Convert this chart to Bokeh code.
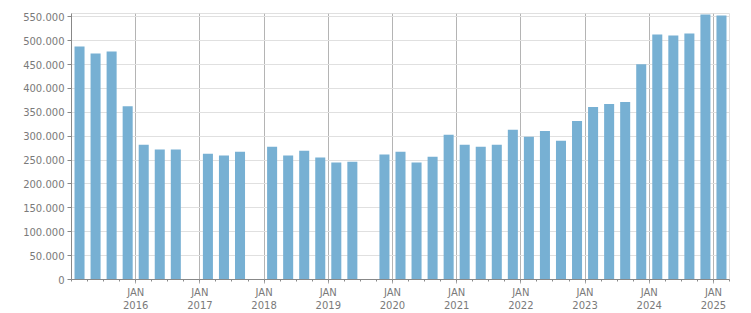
from bokeh.plotting import figure
from bokeh.models import FixedTicker, ColumnDataSource, CustomJSTickFormatter
from bokeh.embed import file_html
from bokeh.resources import INLINE

# Quarterly values, 2015 Q1 .. 2025 Q1 (None = no data)
quarters = [
    "2015Q1", "2015Q2", "2015Q3", "2015Q4",
    "2016Q1", "2016Q2", "2016Q3", "2016Q4",
    "2017Q1", "2017Q2", "2017Q3", "2017Q4",
    "2018Q1", "2018Q2", "2018Q3", "2018Q4",
    "2019Q1", "2019Q2", "2019Q3", "2019Q4",
    "2020Q1", "2020Q2", "2020Q3", "2020Q4",
    "2021Q1", "2021Q2", "2021Q3", "2021Q4",
    "2022Q1", "2022Q2", "2022Q3", "2022Q4",
    "2023Q1", "2023Q2", "2023Q3", "2023Q4",
    "2024Q1", "2024Q2", "2024Q3", "2024Q4",
    "2025Q1",
]
values = [
    488000, 473500, 477500, 363000,
    282000, 272000, 272000, None,
    263500, 259500, 267500, None,
    278000, 259500, 269500, 255500,
    245000, 246500, None, 261500,
    267500, 245000, 257000, 303000,
    282000, 278000, 282000, 313500,
    299000, 311000, 290500, 332000,
    361000, 367500, 371500, 450500,
    513000, 511000, 515000, 555000,
    553000,
]
year_labels = ["2016", "2017", "2018", "2019", "2020", "2021", "2022", "2023", "2024", "2025"]
month_label = "JAN"
y_ticks = [0, 50000, 100000, 150000, 200000, 250000, 300000, 350000, 400000, 450000, 500000, 550000]

xs = [i + 0.5 for i, v in enumerate(values) if v is not None]
tops = [v for v in values if v is not None]
src = ColumnDataSource(dict(x=xs, top=tops))

n = len(quarters)
year_pos = [4 * (i + 1) for i in range(len(year_labels))]

p = figure(width=751, height=313, output_backend="svg", toolbar_location=None,
           x_range=(0, n), y_range=(0, 557000),
           min_border_left=71, min_border_right=22, min_border_top=13, min_border_bottom=32)
p.vbar(x="x", top="top", width=0.625, source=src, color="#77b0d3", line_color=None)

text_color = "#7a7a7a"
font = "DejaVu Sans"

xt = FixedTicker(ticks=year_pos, minor_ticks=list(range(0, n + 1)))
p.xaxis.ticker = xt
p.xaxis.major_label_overrides = {yp: f"{month_label}\n{yl}" for yp, yl in zip(year_pos, year_labels)}
p.xaxis.major_label_text_font = font
p.xaxis.major_label_text_font_size = "10px"
p.xaxis.major_label_text_color = text_color
p.xaxis.major_label_standoff = 3
p.xaxis.major_tick_out = 4
p.xaxis.major_tick_in = 0
p.xaxis.minor_tick_out = 2
p.xaxis.minor_tick_in = 0
p.xaxis.axis_line_color = "#888888"
p.xaxis.major_tick_line_color = "#aaaaaa"
p.xaxis.minor_tick_line_color = "#888888"

p.yaxis.ticker = FixedTicker(ticks=y_ticks)
p.yaxis.formatter = CustomJSTickFormatter(code="return tick.toLocaleString('en-US').replace(/,/g, '.');")
p.yaxis.major_label_text_font = font
p.yaxis.major_label_text_font_size = "10px"
p.yaxis.major_label_text_color = text_color
p.yaxis.major_tick_out = 4
p.yaxis.major_tick_in = 0
p.yaxis.minor_tick_line_color = None
p.yaxis.axis_line_color = "#888888"
p.yaxis.major_tick_line_color = "#888888"
p.yaxis.major_label_standoff = 3

p.xgrid.ticker = FixedTicker(ticks=year_pos)
p.xgrid.grid_line_color = "#b4b4b4"
p.xgrid.grid_line_width = 1
p.ygrid.ticker = FixedTicker(ticks=y_ticks)
p.ygrid.grid_line_color = "#e0e0e0"
p.ygrid.grid_line_width = 1

p.outline_line_color = "#e0e0e0"
p.outline_line_width = 1
p.background_fill_color = "white"
p.border_fill_color = "white"

open("out.html", "w").write(file_html(p, INLINE))
